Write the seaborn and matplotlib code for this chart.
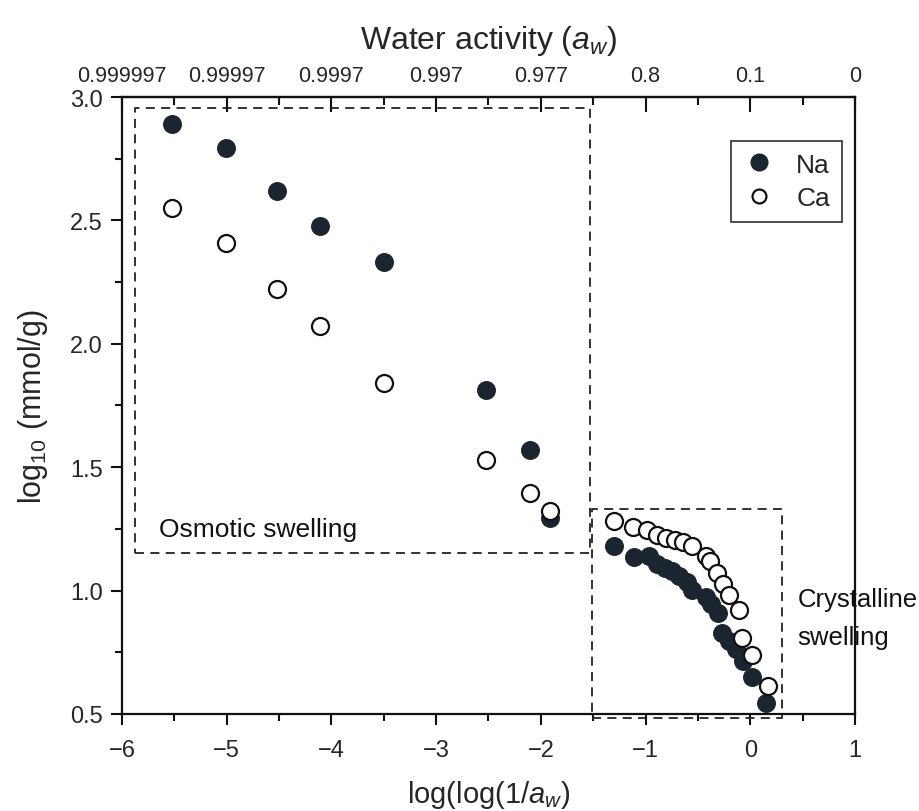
import matplotlib
matplotlib.use("Agg")
import matplotlib.pyplot as plt
import seaborn as sns
import pandas as pd
from matplotlib.lines import Line2D
from matplotlib.ticker import MultipleLocator, FormatStrFormatter

sns.set_theme(style="white")
plt.rcParams["font.family"] = ["Liberation Sans", "DejaVu Sans"]
plt.rcParams["mathtext.fontset"] = "custom"
plt.rcParams["mathtext.rm"] = "Liberation Sans"
plt.rcParams["mathtext.it"] = "Liberation Sans:italic"

# log(log(1/a_w)) positions and log10 uptake (mmol/g)
x_osmotic = [-5.52, -5.01, -4.52, -4.11, -3.50, -2.52, -2.10, -1.91]
na_osmotic = [2.891, 2.795, 2.620, 2.478, 2.333, 1.811, 1.568, 1.296]
ca_osmotic = [2.552, 2.408, 2.222, 2.074, 1.843, 1.529, 1.397, 1.322]

x_na_cryst = [-1.305, -1.113, -0.969, -0.890, -0.810, -0.746, -0.682, -0.603, -0.554,
              -0.427, -0.379, -0.305, -0.267, -0.202, -0.139, -0.073, 0.021, 0.149]
na_cryst = [1.181, 1.136, 1.140, 1.107, 1.093, 1.080, 1.059, 1.033, 1.002,
            0.975, 0.945, 0.909, 0.830, 0.797, 0.763, 0.716, 0.649, 0.545]

x_ca_cryst = [-1.305, -1.120, -0.986, -0.890, -0.804, -0.720, -0.643, -0.561, -0.427,
              -0.388, -0.314, -0.260, -0.199, -0.108, -0.080, 0.021, 0.165]
ca_cryst = [1.280, 1.258, 1.244, 1.225, 1.215, 1.204, 1.195, 1.181, 1.140,
            1.118, 1.073, 1.027, 0.981, 0.920, 0.807, 0.738, 0.613]

top_tick_pos = [-6, -5, -4, -3, -2, -1, 0, 1]
top_tick_labels = ["0.999997", "0.99997", "0.9997", "0.997", "0.977", "0.8", "0.1", "0"]

na_df = pd.DataFrame({"x": x_osmotic + x_na_cryst, "y": na_osmotic + na_cryst})
ca_df = pd.DataFrame({"x": x_osmotic + x_ca_cryst, "y": ca_osmotic + ca_cryst})

dark = "#1b2530"
fig = plt.figure(figsize=(9.19, 8.12), dpi=100)
ax = fig.add_axes([0.1328, 0.1195, 0.7975, 0.7598])

sns.scatterplot(data=na_df, x="x", y="y", ax=ax, s=155, color=dark,
                edgecolor=dark, linewidth=1.2, zorder=3)
sns.scatterplot(data=ca_df, x="x", y="y", ax=ax, s=150, facecolor="white",
                edgecolor="#111111", linewidth=1.6, zorder=4)

ax.set_xlim(-6, 1)
ax.set_ylim(0.5, 3.0)

# dashed regions
box_kw = dict(color="#222222", lw=1.3, ls=(0, (5, 3.5)), clip_on=False, zorder=2)
ox0, ox1, oy0, oy1 = -5.88, -1.53, 1.154, 2.954
ax.plot([ox0, ox1, ox1, ox0, ox0], [oy0, oy0, oy1, oy1, oy0], **box_kw)
cx0, cx1, cy0, cy1 = -1.507, 0.308, 0.485, 1.329
ax.plot([cx0, cx1, cx1, cx0, cx0], [cy0, cy0, cy1, cy1, cy0], **box_kw)

ax.text(-5.65, 1.222, "Osmotic swelling", fontsize=19, color="#111111", va="baseline")
ax.text(0.45, 0.89, "Crystalline\nswelling", fontsize=18.5, color="#111111",
        va="center", ha="left", linespacing=1.75, clip_on=False)

# spines and ticks
for sp in ax.spines.values():
    sp.set_color("#111111")
    sp.set_linewidth(1.6)
ax.xaxis.set_major_locator(MultipleLocator(1))
ax.xaxis.set_minor_locator(MultipleLocator(0.5))
ax.yaxis.set_major_locator(MultipleLocator(0.5))
ax.yaxis.set_minor_locator(MultipleLocator(0.25))
ax.tick_params(which="both", direction="out", color="#111111", width=1.5,
               bottom=True, left=True, top=False, right=False)
ax.tick_params(which="major", length=8, labelsize=17)
ax.tick_params(axis="x", which="major", pad=10)
ax.tick_params(axis="y", which="major", pad=6)
ax.tick_params(which="minor", length=5)
ax.yaxis.set_major_formatter(FormatStrFormatter("%.1f"))

ax.set_xlabel(r"log(log(1/$\mathit{a}_{\mathit{w}}$)", fontsize=21, labelpad=12)
ax.set_ylabel(r"log$_{10}$ (mmol/g)", fontsize=22, labelpad=14)

top = ax.secondary_xaxis("top")
top.set_xticks(top_tick_pos)
top.set_xticklabels(top_tick_labels, fontsize=15.5)
top.xaxis.set_minor_locator(MultipleLocator(0.5))
top.tick_params(which="both", direction="in", color="#111111", width=1.5, pad=8)
top.tick_params(which="major", length=11)
top.tick_params(which="minor", length=6)
top.spines["top"].set_linewidth(1.6)
top.set_xlabel(r"Water activity ($\mathit{a}_{\mathit{w}}$)", fontsize=23, labelpad=12)

handles = [
    Line2D([], [], marker="o", ls="", markersize=12, markerfacecolor=dark,
           markeredgecolor=dark, label="Na"),
    Line2D([], [], marker="o", ls="", markersize=10, markerfacecolor="white",
           markeredgecolor="#111111", markeredgewidth=1.6, label="Ca"),
]
leg = ax.legend(handles=handles, loc="upper right", bbox_to_anchor=(0.982, 0.929),
                borderaxespad=0, fontsize=19, frameon=True, fancybox=False,
                handletextpad=0.8, borderpad=0.45, labelspacing=0.35,
                handlelength=1.2)
leg.get_frame().set_edgecolor("#111111")
leg.get_frame().set_linewidth(1.3)

fig.savefig("out.png", dpi=100, facecolor="white")
